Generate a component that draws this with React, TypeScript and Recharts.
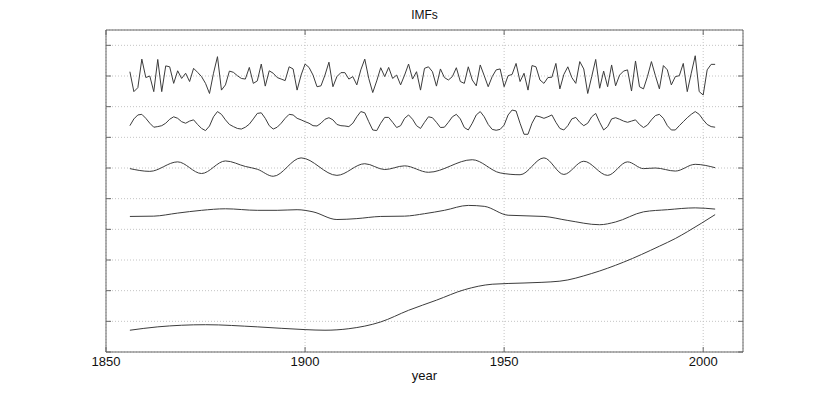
import React from 'react';
import { LineChart, Line, XAxis, YAxis, CartesianGrid } from 'recharts';

const years = [
  1856, 1857, 1858, 1859, 1860, 1861, 1862, 1863, 1864, 1865, 1866, 1867, 1868, 1869, 1870, 1871, 1872, 1873, 1874, 1875,
  1876, 1877, 1878, 1879, 1880, 1881, 1882, 1883, 1884, 1885, 1886, 1887, 1888, 1889, 1890, 1891, 1892, 1893, 1894, 1895,
  1896, 1897, 1898, 1899, 1900, 1901, 1902, 1903, 1904, 1905, 1906, 1907, 1908, 1909, 1910, 1911, 1912, 1913, 1914, 1915,
  1916, 1917, 1918, 1919, 1920, 1921, 1922, 1923, 1924, 1925, 1926, 1927, 1928, 1929, 1930, 1931, 1932, 1933, 1934, 1935,
  1936, 1937, 1938, 1939, 1940, 1941, 1942, 1943, 1944, 1945, 1946, 1947, 1948, 1949, 1950, 1951, 1952, 1953, 1954, 1955,
  1956, 1957, 1958, 1959, 1960, 1961, 1962, 1963, 1964, 1965, 1966, 1967, 1968, 1969, 1970, 1971, 1972, 1973, 1974, 1975,
  1976, 1977, 1978, 1979, 1980, 1981, 1982, 1983, 1984, 1985, 1986, 1987, 1988, 1989, 1990, 1991, 1992, 1993, 1994, 1995,
  1996, 1997, 1998, 1999, 2000, 2001, 2002, 2003,
];

// IMF 1 (annual, deviation from its baseline)
const imf1 = [
  0.14, -0.51, -0.38, 0.55, -0.05, 0.0, -0.51, 0.54, -0.51, 0.33, 0.3, -0.24, 0.17, -0.08, 0.09, -0.18, 0.25, 0.12, -0.02, -0.24,
  -0.57, 0.09, 0.63, -0.46, -0.29, 0.16, 0.12, 0.01, -0.08, -0.1, 0.28, -0.24, -0.16, 0.39, -0.33, 0.17, 0.09,
  -0.05, -0.1, -0.15, 0.3, 0.23, -0.46, 0.03, 0.39, 0.28, 0.03, -0.35, -0.32, 0.03, 0.45, -0.35, -0.02, 0.11, 0.11, -0.1, -0.02,
  -0.29, 0.2, 0.55, -0.08, -0.54, -0.16, 0.27, -0.02, 0.28, -0.08, 0.03, -0.29, 0.03, 0.39, -0.1, 0.14, -0.46,
  0.25, 0.3, 0.14, -0.33, 0.23, -0.05, -0.13, -0.02, 0.27, -0.18, -0.24, 0.3, -0.13, -0.32, 0.36, 0.01, -0.35, -0.02, 0.2, 0.23,
  -0.35, 0.01, 0.05, 0.41, -0.18, 0.09, -0.46, 0.34, 0.3, -0.13, -0.24, -0.05, -0.04, 0.41, -0.42, 0.05, 0.3,
  -0.05, -0.24, 0.47, 0.23, -0.57, -0.02, 0.54, -0.4, 0.16, -0.35, 0.36, -0.32, 0.03, 0.16, 0.2, -0.49, 0.49, -0.35, -0.42, -0.02,
  0.47, 0.01, -0.42, 0.34, 0.2, -0.29, -0.02, 0.01, 0.41, -0.51, 0.09, 0.66, -0.51, -0.62, 0.2, 0.38, 0.38,
];

// IMF 2 (annual, deviation from its baseline)
const imf2 = [
  -0.12, 0.1, 0.23, 0.25, 0.12, -0.04, -0.17, -0.15, -0.12, -0.04, 0.09, 0.17, 0.12, 0.01, -0.04, 0.03, 0.07, -0.08, -0.21, -0.28,
  -0.13, 0.17, 0.34, 0.25, 0.07, -0.08, -0.15, -0.21, -0.23, -0.17, -0.07, 0.1, 0.28, 0.3, 0.12, -0.12, -0.23,
  -0.17, -0.04, 0.12, 0.25, 0.23, 0.12, 0.07, 0.01, -0.04, -0.12, -0.13, -0.04, 0.09, 0.14, 0.07, -0.08, -0.12, -0.13, -0.15, -0.04,
  0.17, 0.34, 0.3, 0.01, -0.26, -0.28, -0.04, 0.15, 0.15, -0.01, -0.18, -0.12, 0.12, 0.23, 0.09, -0.12, -0.21,
  -0.01, 0.17, 0.14, -0.01, -0.18, -0.17, -0.01, 0.17, 0.25, 0.1, -0.18, -0.26, -0.04, 0.23, 0.34, 0.17, -0.08, -0.24, -0.27, -0.24,
  -0.1, 0.23, 0.39, 0.36, -0.04, -0.4, -0.4, -0.04, 0.2, 0.17, 0.12, 0.17, 0.23, -0.01, -0.21, -0.26, -0.12,
  0.1, 0.15, -0.01, -0.12, -0.04, 0.17, 0.28, -0.01, -0.26, -0.15, 0.1, 0.14, 0.09, 0.03, -0.01, 0.03, 0.07, -0.08, -0.18, -0.1,
  0.07, 0.21, 0.25, 0.12, -0.12, -0.26, -0.26, -0.12, 0.01, 0.14, 0.25, 0.34, 0.25, 0.07, -0.08, -0.15, -0.17,
];

// IMF 3 (read at its turning points)
const imf3Years = [1856, 1861, 1868, 1874, 1880, 1885, 1888, 1892, 1899, 1908, 1915, 1920, 1925, 1931, 1942, 1949, 1954, 1960, 1965, 1970, 1976, 1981, 1985, 1988, 1993, 1998, 2003];
const imf3Values = [-0.02, -0.11, 0.2, -0.18, 0.23, 0.05, -0.04, -0.27, 0.33, -0.24, 0.14, -0.05, 0.07, -0.14, 0.27, -0.16, -0.22, 0.33, -0.21, 0.22, -0.24, 0.2, -0.02, 0.0, -0.1, 0.12, 0.01];

// IMF 4 (read at its turning points)
const imf4Years = [1856, 1862, 1868, 1874, 1880, 1888, 1893, 1898, 1902, 1908, 1913, 1919, 1925, 1930, 1935, 1941, 1945, 1951, 1960, 1966, 1974, 1978, 1985, 1991, 1998, 2003];
const imf4Values = [-0.08, -0.07, 0.03, 0.12, 0.17, 0.12, 0.12, 0.14, 0.07, -0.18, -0.15, -0.08, -0.07, 0.01, 0.12, 0.28, 0.25, -0.04, -0.08, -0.21, -0.35, -0.26, 0.07, 0.14, 0.2, 0.16];

// Residual trend (absolute plot units)
const trendYears = [1856, 1863, 1875, 1888, 1900, 1905, 1911, 1919, 1926, 1933, 1940, 1947, 1955, 1964, 1972, 1980, 1989, 1993, 1996, 2003];
const trendValues = [0.71, 0.82, 0.89, 0.82, 0.73, 0.71, 0.76, 0.98, 1.36, 1.69, 2.03, 2.21, 2.25, 2.31, 2.56, 2.93, 3.45, 3.7, 3.92, 4.48];

const imfOffsets = [9, 7.5, 6, 4.5];
const xTicks = [1850, 1900, 1950, 2000];
const yTicks = [0, 1, 2, 3, 4, 5, 6, 7, 8, 9, 10];

const pick = (ys: number[], vs: number[], year: number, off: number) => {
  const k = ys.indexOf(year);
  return k >= 0 ? vs[k] + off : null;
};

const data = years.map((year, i) => ({
  year,
  imf1: imf1[i] + imfOffsets[0],
  imf2: imf2[i] + imfOffsets[1],
  imf3: pick(imf3Years, imf3Values, year, imfOffsets[2]),
  imf4: pick(imf4Years, imf4Values, year, imfOffsets[3]),
  trend: pick(trendYears, trendValues, year, 0),
}));

const FONT = '"Liberation Sans", Arial, Helvetica, sans-serif';
const AX = '#666';
const LINE = '#3c3c3c';
const NoLabel = () => <g />;

export default function App() {
  return (
    <div style={{ position: 'absolute', left: 0, top: 0, width: 822, height: 396, fontFamily: FONT, background: '#fff' }}>
      <div style={{ position: 'absolute', left: 106, width: 637, top: 8, textAlign: 'center', fontSize: 12, color: '#111', lineHeight: '14px' }}>IMFs</div>
      <div style={{ position: 'absolute', left: 106, width: 637, top: 368, textAlign: 'center', fontSize: 13, color: '#111', lineHeight: '15px' }}>year</div>
      <LineChart width={822} height={396} data={data} margin={{ top: 29, right: 78, bottom: 0, left: 0 }}>
        <CartesianGrid stroke="#c4c4c4" strokeDasharray="1 2" />
        <XAxis
          dataKey="year"
          type="number"
          domain={[1850, 2010]}
          ticks={xTicks}
          interval={0}
          height={44}
          tickSize={-5}
          tickMargin={10}
          axisLine={{ stroke: AX }}
          tickLine={{ stroke: AX }}
          tick={{ fill: '#111', fontSize: 13, fontFamily: FONT }}
          allowDataOverflow
        />
        <XAxis
          xAxisId="top"
          orientation="top"
          dataKey="year"
          type="number"
          domain={[1850, 2010]}
          ticks={xTicks}
          interval={0}
          height={1}
          tickSize={-5}
          tick={NoLabel}
          axisLine={{ stroke: AX }}
          tickLine={{ stroke: AX }}
          allowDataOverflow
        />
        <YAxis
          type="number"
          domain={[0, 10.5]}
          ticks={yTicks}
          interval={0}
          width={106}
          tickSize={-5}
          tick={NoLabel}
          axisLine={{ stroke: AX }}
          tickLine={{ stroke: AX }}
          allowDataOverflow
        />
        <YAxis
          yAxisId="right"
          orientation="right"
          type="number"
          domain={[0, 10.5]}
          ticks={yTicks}
          interval={0}
          width={1}
          tickSize={-5}
          tick={NoLabel}
          axisLine={{ stroke: AX }}
          tickLine={{ stroke: AX }}
          allowDataOverflow
        />
        <Line dataKey="imf1" type="linear" stroke={LINE} strokeWidth={1} dot={false} isAnimationActive={false} />
        <Line dataKey="imf2" type="linear" stroke={LINE} strokeWidth={1} dot={false} isAnimationActive={false} />
        <Line dataKey="imf3" type="monotone" connectNulls stroke={LINE} strokeWidth={1} dot={false} isAnimationActive={false} />
        <Line dataKey="imf4" type="monotone" connectNulls stroke={LINE} strokeWidth={1} dot={false} isAnimationActive={false} />
        <Line dataKey="trend" type="monotone" connectNulls stroke={LINE} strokeWidth={1} dot={false} isAnimationActive={false} />
      </LineChart>
    </div>
  );
}
